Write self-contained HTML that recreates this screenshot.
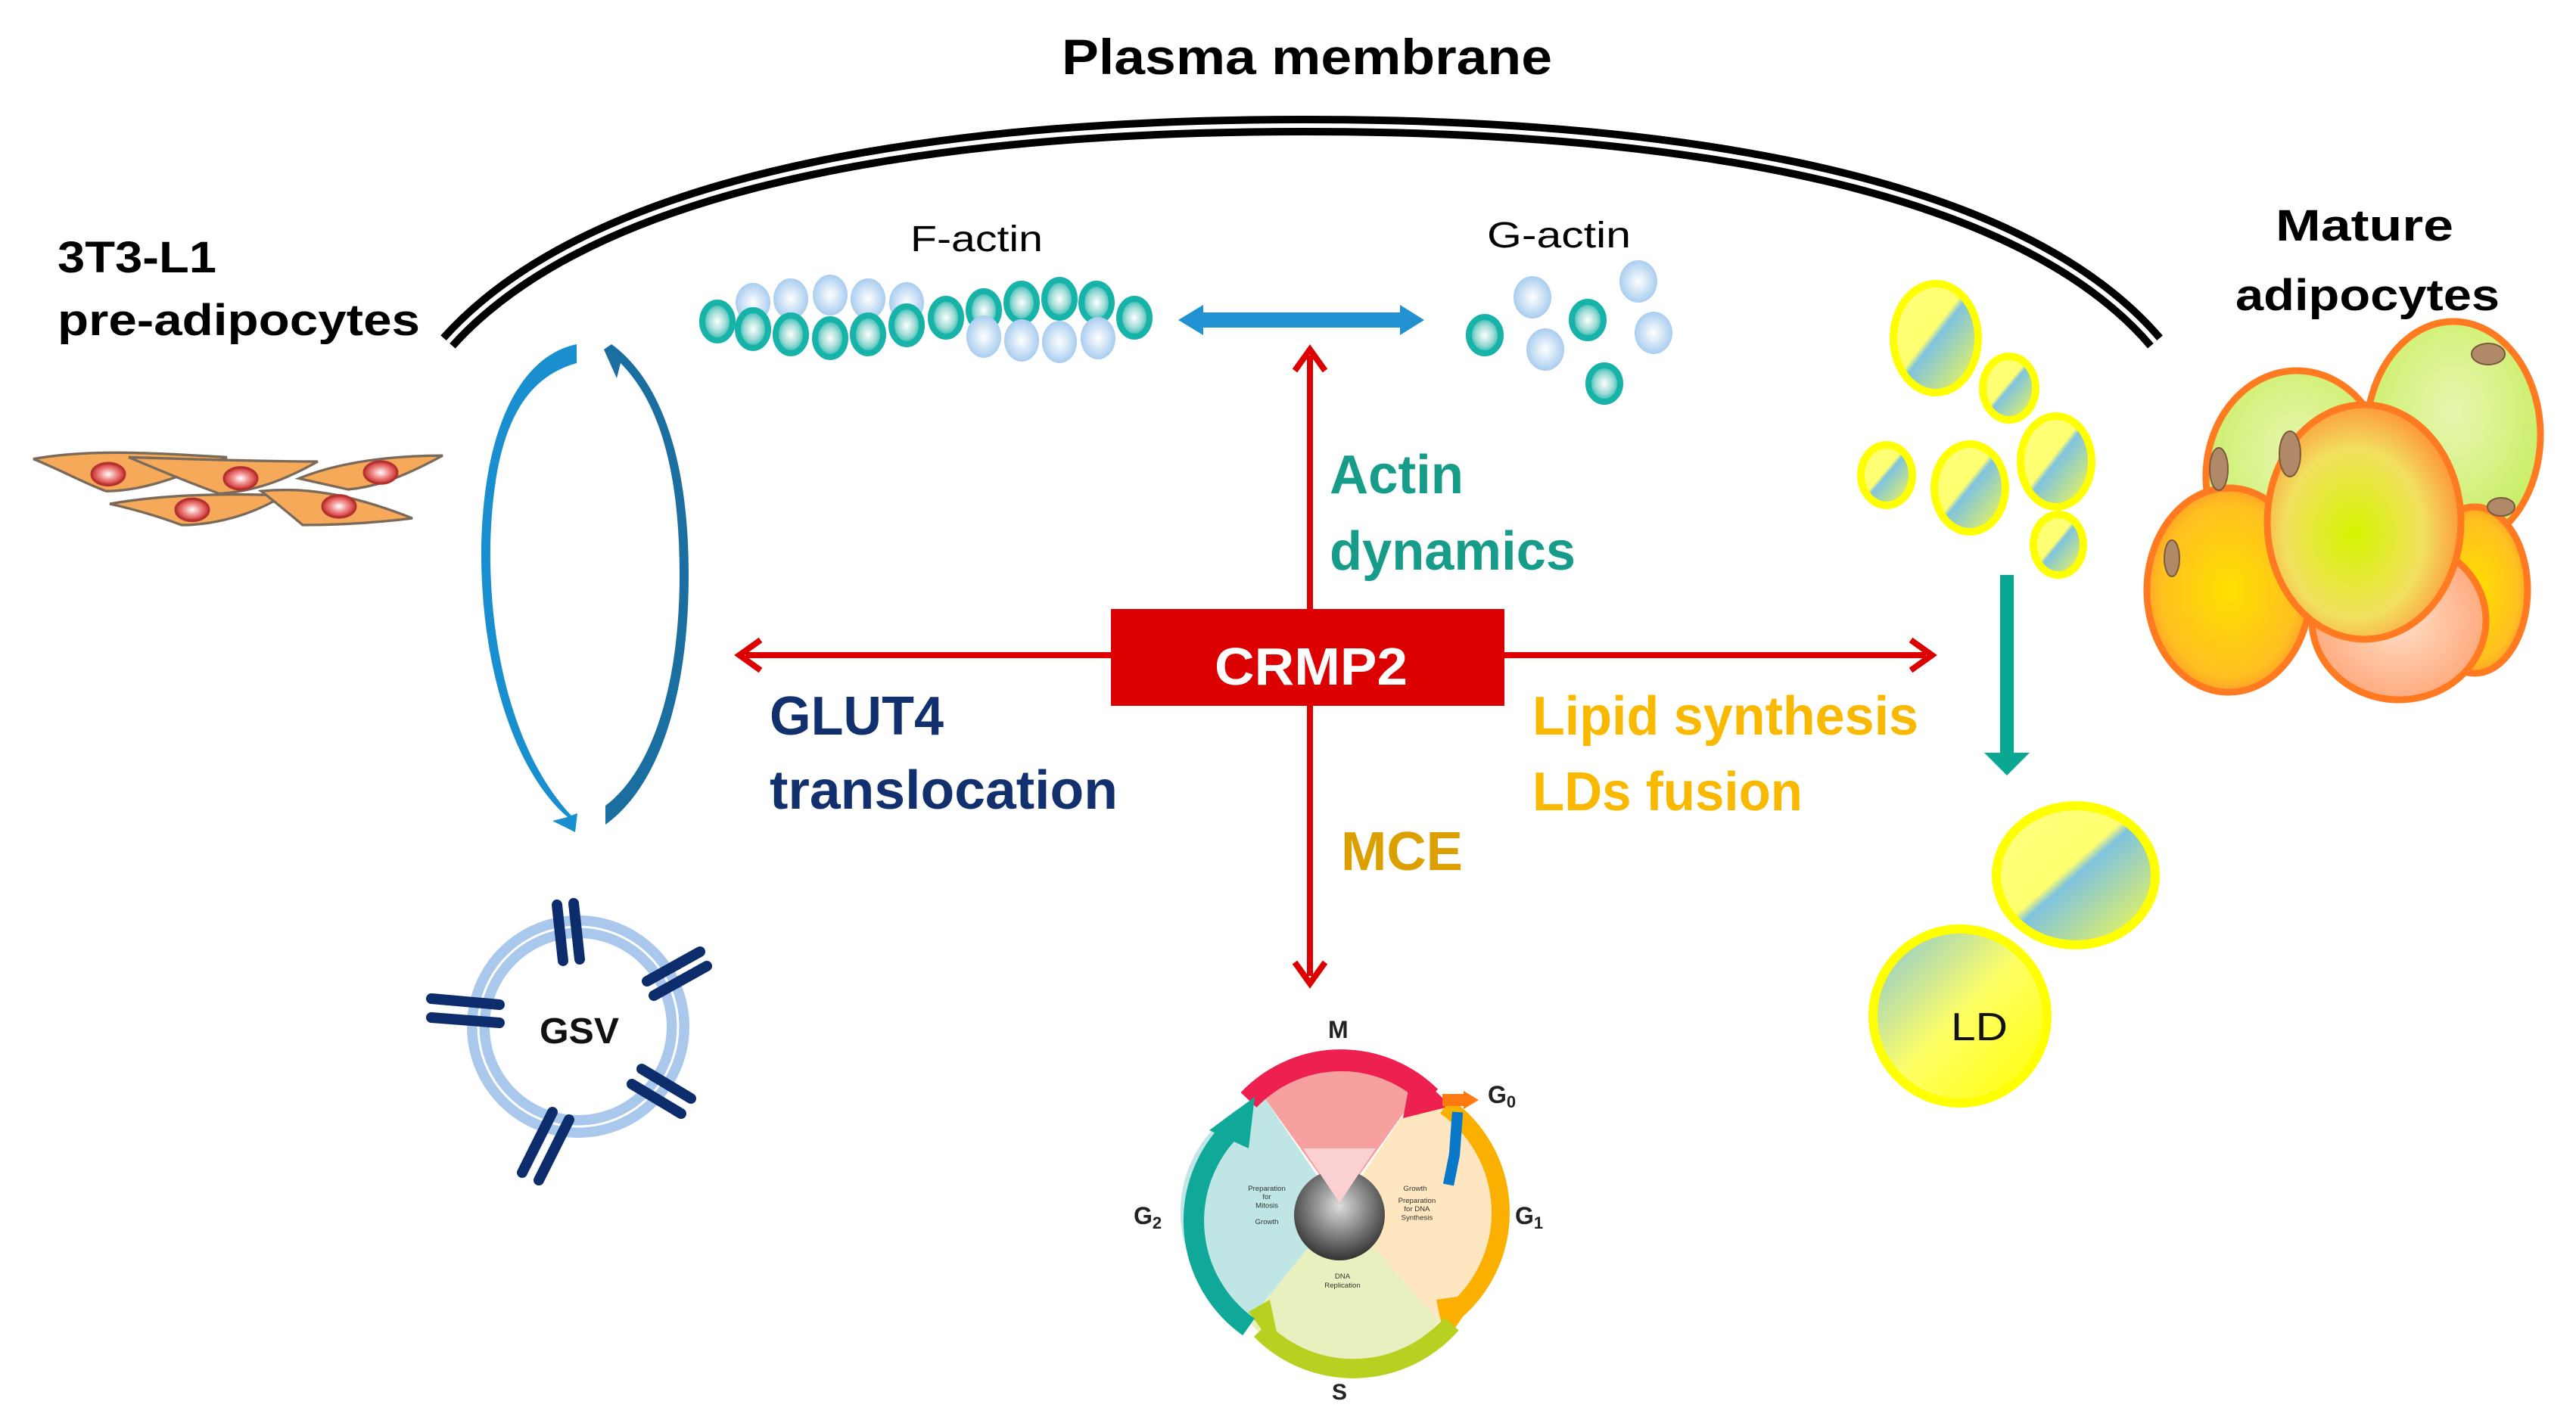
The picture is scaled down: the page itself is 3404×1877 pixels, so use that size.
<!DOCTYPE html>
<html><head><meta charset="utf-8"><style>
html,body{margin:0;padding:0;background:#fff;}
svg{display:block}
text{font-family:"Liberation Sans",sans-serif;}
</style></head><body>
<svg width="3404" height="1877" viewBox="0 0 3404 1877" xmlns="http://www.w3.org/2000/svg">
<defs>
<radialGradient id="tb" cx="50%" cy="50%" r="50%"><stop offset="0" stop-color="#ffffff"/><stop offset="0.55" stop-color="#9fdcd6"/><stop offset="1" stop-color="#1fb7ad"/></radialGradient>
<radialGradient id="lb" cx="50%" cy="50%" r="50%"><stop offset="0" stop-color="#ffffff"/><stop offset="1" stop-color="#a9cdef"/></radialGradient>
<linearGradient id="ld" x1="0" y1="0" x2="1" y2="1"><stop offset="0" stop-color="#7fc3df"/><stop offset="0.5" stop-color="#ffff66"/><stop offset="1" stop-color="#ffff00"/></linearGradient>
<linearGradient id="ld2" x1="0" y1="0" x2="1" y2="1"><stop offset="0" stop-color="#ffff80"/><stop offset="0.45" stop-color="#ffff70"/><stop offset="0.5" stop-color="#7fc3df"/><stop offset="1" stop-color="#ffff40"/></linearGradient>
<radialGradient id="ad1" cx="45%" cy="55%" r="60%"><stop offset="0" stop-color="#d4f400"/><stop offset="0.6" stop-color="#f2e060"/><stop offset="1" stop-color="#ff8a30"/></radialGradient>
<radialGradient id="ad2" cx="50%" cy="50%" r="60%"><stop offset="0" stop-color="#ffe000"/><stop offset="0.7" stop-color="#ffc020"/><stop offset="1" stop-color="#ff8030"/></radialGradient>
<radialGradient id="ad3" cx="50%" cy="40%" r="60%"><stop offset="0" stop-color="#e8f6b0"/><stop offset="1" stop-color="#c8ee60"/></radialGradient>
<radialGradient id="ad4" cx="50%" cy="50%" r="60%"><stop offset="0" stop-color="#ffe0c8"/><stop offset="1" stop-color="#ffa070"/></radialGradient>
<radialGradient id="nuc" cx="50%" cy="50%" r="50%"><stop offset="0" stop-color="#fff"/><stop offset="0.5" stop-color="#f08a8a"/><stop offset="1" stop-color="#c8302a"/></radialGradient>
<radialGradient id="hub" cx="50%" cy="40%" r="60%"><stop offset="0" stop-color="#ddd"/><stop offset="1" stop-color="#333"/></radialGradient>
</defs>

<!-- Plasma membrane -->
<path d="M592,452 C800,220 1300,166 1724,166 C2150,166 2650,220 2848,452" fill="none" stroke="#000" stroke-width="26"/>
<path d="M592,452 C800,220 1300,166 1724,166 C2150,166 2650,220 2848,452" fill="none" stroke="#fff" stroke-width="6"/>

<text x="1403" y="98" font-size="66" font-weight="bold" textLength="648" lengthAdjust="spacingAndGlyphs">Plasma membrane</text>
<text x="76" y="360" font-size="58" font-weight="bold" textLength="210" lengthAdjust="spacingAndGlyphs">3T3-L1</text>
<text x="76" y="443" font-size="58" font-weight="bold" textLength="479" lengthAdjust="spacingAndGlyphs">pre-adipocytes</text>
<text x="3007" y="318" font-size="58" font-weight="bold" textLength="235" lengthAdjust="spacingAndGlyphs">Mature</text>
<text x="2954" y="410" font-size="58" font-weight="bold" textLength="349" lengthAdjust="spacingAndGlyphs">adipocytes</text>
<text x="1203" y="332" font-size="48" textLength="175" lengthAdjust="spacingAndGlyphs">F-actin</text>
<text x="1965" y="327" font-size="48" textLength="190" lengthAdjust="spacingAndGlyphs">G-actin</text>

<!-- F-actin filament -->
<g stroke="none">
<g fill="url(#lb)">
<ellipse cx="995" cy="400" rx="23" ry="26"/><ellipse cx="1045" cy="395" rx="23" ry="27"/><ellipse cx="1097" cy="390" rx="23" ry="27"/><ellipse cx="1147" cy="395" rx="23" ry="27"/><ellipse cx="1198" cy="400" rx="23" ry="27"/>
</g>
<g fill="url(#tb)" stroke="#17b3a8" stroke-width="8">
<ellipse cx="948" cy="425" rx="20" ry="25"/><ellipse cx="995" cy="435" rx="20" ry="25"/><ellipse cx="1045" cy="442" rx="20" ry="25"/><ellipse cx="1097" cy="447" rx="20" ry="25"/><ellipse cx="1147" cy="442" rx="20" ry="25"/><ellipse cx="1198" cy="430" rx="20" ry="25"/><ellipse cx="1250" cy="420" rx="20" ry="25"/>
<ellipse cx="1300" cy="410" rx="20" ry="25"/><ellipse cx="1350" cy="400" rx="20" ry="25"/><ellipse cx="1400" cy="395" rx="20" ry="25"/><ellipse cx="1449" cy="400" rx="20" ry="25"/><ellipse cx="1499" cy="420" rx="20" ry="25"/>
</g>
<g fill="url(#lb)">
<ellipse cx="1300" cy="445" rx="23" ry="28"/><ellipse cx="1350" cy="450" rx="23" ry="28"/><ellipse cx="1400" cy="452" rx="23" ry="28"/><ellipse cx="1451" cy="447" rx="23" ry="28"/>
</g>
<!-- G-actin -->
<g fill="url(#lb)">
<ellipse cx="2025" cy="393" rx="25" ry="28"/><ellipse cx="2165" cy="372" rx="25" ry="28"/><ellipse cx="2042" cy="462" rx="25" ry="28"/><ellipse cx="2185" cy="440" rx="25" ry="28"/>
</g>
<g fill="url(#tb)" stroke="#17b3a8" stroke-width="8">
<ellipse cx="1962" cy="443" rx="21" ry="24"/><ellipse cx="2098" cy="423" rx="21" ry="24"/><ellipse cx="2120" cy="507" rx="21" ry="24"/>
</g>
</g>
<!-- blue double arrow -->
<path d="M1557,423 L1590,403 L1590,413 L1850,413 L1850,403 L1882,423 L1850,443 L1850,433 L1590,433 L1590,443 Z" fill="#2291d2"/>

<!-- red arrows -->
<g stroke="#dd0000" stroke-width="8" fill="none">
<line x1="1731" y1="470" x2="1731" y2="1290"/>
<line x1="985" y1="866" x2="2545" y2="866"/>
<polyline points="1711,490 1731,462 1751,490"/>
<polyline points="1711,1272 1731,1300 1751,1272"/>
<polyline points="1005,846 977,866 1005,886"/>
<polyline points="2525,846 2553,866 2525,886"/>
</g>
<rect x="1468" y="805" width="520" height="128" fill="#dd0000"/>
<text x="1605" y="905" font-size="70" font-weight="bold" fill="#fff" textLength="255" lengthAdjust="spacingAndGlyphs">CRMP2</text>

<text x="1757" y="652" font-size="72" font-weight="bold" fill="#189c8a" textLength="177" lengthAdjust="spacingAndGlyphs">Actin</text>
<text x="1757" y="753" font-size="72" font-weight="bold" fill="#189c8a" textLength="325" lengthAdjust="spacingAndGlyphs">dynamics</text>
<text x="1017" y="971" font-size="72" font-weight="bold" fill="#13306e" textLength="230" lengthAdjust="spacingAndGlyphs">GLUT4</text>
<text x="1017" y="1069" font-size="72" font-weight="bold" fill="#13306e" textLength="460" lengthAdjust="spacingAndGlyphs">translocation</text>
<text x="2025" y="971" font-size="72" font-weight="bold" fill="#f9b900" textLength="510" lengthAdjust="spacingAndGlyphs">Lipid synthesis</text>
<text x="2025" y="1071" font-size="72" font-weight="bold" fill="#f9b900" textLength="357" lengthAdjust="spacingAndGlyphs">LDs fusion</text>
<text x="1772" y="1150" font-size="72" font-weight="bold" fill="#dba000" textLength="161" lengthAdjust="spacingAndGlyphs">MCE</text>

<!-- pre-adipocytes -->
<g transform="translate(0,38) translate(0,600) scale(1,1.12) translate(0,-600)">
<g stroke="#7a6a5a" stroke-width="3" fill="#f7a95a">
<path d="M44,572 C120,560 200,565 300,570 C220,600 180,610 140,610 C110,600 80,585 44,572 Z"/>
<path d="M170,570 C250,572 330,575 420,575 C380,595 340,610 290,613 C250,600 210,585 170,570 Z"/>
<path d="M395,595 C450,575 520,568 585,568 C540,590 500,605 460,608 Z"/>
<path d="M145,625 C210,615 290,612 375,615 C330,640 280,650 240,650 C210,640 180,632 145,625 Z"/>
<path d="M345,610 C400,605 460,612 545,642 C490,648 440,650 400,650 C380,635 360,620 345,610 Z"/>
</g>
<g fill="url(#nuc)" stroke="#b53030" stroke-width="3">
<ellipse cx="143" cy="590" rx="22" ry="13"/><ellipse cx="318" cy="595" rx="22" ry="13"/><ellipse cx="503" cy="588" rx="22" ry="13"/><ellipse cx="254" cy="632" rx="22" ry="13"/><ellipse cx="448" cy="628" rx="22" ry="13"/>
</g>
</g>

<!-- recycling arrows -->
<path d="M762,455 C690,470 640,560 636,720 C634,880 680,1020 750,1080 L730,1085 L760,1100 L763,1075 L755,1078 C690,1010 646,880 648,720 C652,570 690,500 762,480 Z" fill="#1a8fd0"/>
<path d="M808,455 C870,500 910,600 910,760 C910,920 870,1040 800,1090 L800,1065 C860,1020 898,910 898,760 C898,620 870,530 820,480 L815,500 L798,462 Z" fill="#1a6ea0"/>

<!-- GSV -->
<circle cx="764" cy="1357" r="132" fill="none" stroke="#a9c8ec" stroke-width="30"/>
<circle cx="764" cy="1357" r="132" fill="none" stroke="#fff" stroke-width="3"/>
<g stroke="#0d2c6c" stroke-width="14" stroke-linecap="round">
<line x1="736" y1="1196" x2="744" y2="1270"/><line x1="758" y1="1194" x2="766" y2="1268"/>
<line x1="855" y1="1297" x2="925" y2="1258"/><line x1="864" y1="1316" x2="934" y2="1277"/>
<line x1="570" y1="1320" x2="660" y2="1328"/><line x1="570" y1="1345" x2="660" y2="1352"/>
<line x1="835" y1="1433" x2="900" y2="1472"/><line x1="848" y1="1413" x2="913" y2="1452"/>
<line x1="690" y1="1550" x2="730" y2="1470"/><line x1="712" y1="1560" x2="752" y2="1480"/>
</g>
<text x="713" y="1379" font-size="48" font-weight="bold" fill="#111" textLength="105" lengthAdjust="spacingAndGlyphs">GSV</text>

<!-- small droplets -->
<g stroke="#ffff00" stroke-width="10" fill="url(#ld2)">
<ellipse cx="2558" cy="447" rx="56" ry="72"/>
<ellipse cx="2655" cy="513" rx="35" ry="42"/>
<ellipse cx="2717" cy="610" rx="47" ry="60"/>
<ellipse cx="2493" cy="628" rx="34" ry="40"/>
<ellipse cx="2603" cy="645" rx="47" ry="58"/>
<ellipse cx="2720" cy="720" rx="33" ry="40"/>
</g>
<!-- teal down arrow -->
<rect x="2643" y="760" width="18" height="235" fill="#0aa892"/>
<polygon points="2622,995 2682,995 2652,1025" fill="#0aa892"/>

<!-- LDs -->
<ellipse cx="2743" cy="1157" rx="105" ry="92" fill="url(#ld2)" stroke="#ffff00" stroke-width="12"/>
<circle cx="2590" cy="1343" r="115" fill="url(#ld)" stroke="#ffff00" stroke-width="12"/>
<text x="2578" y="1375" font-size="52" fill="#111" textLength="75" lengthAdjust="spacingAndGlyphs">LD</text>

<!-- mature adipocytes -->
<g stroke="#ff7a20" stroke-width="9">
<ellipse cx="3035" cy="630" rx="120" ry="140" fill="url(#ad3)"/>
<ellipse cx="3242" cy="575" rx="115" ry="150" fill="url(#ad3)"/>
<ellipse cx="3270" cy="780" rx="70" ry="110" fill="url(#ad2)"/>
<ellipse cx="2945" cy="780" rx="108" ry="135" fill="url(#ad2)"/>
<ellipse cx="3170" cy="820" rx="115" ry="105" fill="url(#ad4)"/>
<ellipse cx="3124" cy="690" rx="128" ry="155" fill="url(#ad1)"/>
</g>
<g fill="#b08a68" stroke="#7a5a40" stroke-width="2">
<ellipse cx="3288" cy="468" rx="22" ry="14"/><ellipse cx="2932" cy="620" rx="12" ry="28"/><ellipse cx="3026" cy="600" rx="14" ry="30"/><ellipse cx="2870" cy="738" rx="10" ry="24"/><ellipse cx="3305" cy="670" rx="18" ry="12"/>
</g>

<!-- cell cycle -->
<g transform="translate(1770,1598) scale(0.8)">
<path d="M0,-10 L-125,-185 A200,200 0 0 1 125,-185 Z" fill="#f7a0a0"/>
<path d="M0,0 L125,-185 A200,200 0 0 1 165,185 Z" fill="#fde6c0"/>
<path d="M0,0 L165,185 A200,200 0 0 1 -150,185 Z" fill="#e8f0c0"/>
<path d="M0,0 L-150,185 A200,200 0 0 1 -125,-185 Z" fill="#bfe6e4"/>
<circle cx="0" cy="10" r="75" fill="url(#hub)"/>
<path d="M0,-10 L-60,-100 L60,-100 Z" fill="#fbd0d0"/>
<path d="M-150,-180 A210,210 0 0 1 150,-185" fill="none" stroke="#ee2050" stroke-width="36"/>
<polygon points="120,-230 185,-170 105,-150" fill="#ee2050"/>
<path d="M175,-170 A215,215 0 0 1 190,170" fill="none" stroke="#fbb000" stroke-width="30"/>
<polygon points="160,150 230,140 175,220" fill="#fbb000"/>
<path d="M170,-180 L205,-180" stroke="#ff7a10" stroke-width="20"/>
<polygon points="205,-195 230,-180 205,-165" fill="#ff7a10"/>
<path d="M195,-160 L190,-90 L180,-40" fill="none" stroke="#0a78c8" stroke-width="18"/>
<path d="M185,190 A215,215 0 0 1 -130,200" fill="none" stroke="#b8d020" stroke-width="32"/>
<polygon points="-150,170 -95,245 -115,150" fill="#b8d020"/>
<path d="M-150,195 A215,215 0 0 1 -180,-130" fill="none" stroke="#10a898" stroke-width="34"/>
<polygon points="-215,-130 -140,-185 -150,-100" fill="#10a898"/>
<g font-size="12" fill="#333" text-anchor="middle">
<text x="-120" y="-30">Preparation</text><text x="-120" y="-16">for</text><text x="-120" y="-2">Mitosis</text><text x="-120" y="25">Growth</text>
<text x="125" y="-30">Growth</text><text x="128" y="-10">Preparation</text><text x="128" y="4">for DNA</text><text x="128" y="18">Synthesis</text>
<text x="5" y="115">DNA</text><text x="5" y="130">Replication</text>
</g>
</g>
<text x="1755" y="1372" font-size="32" font-weight="bold" fill="#222">M</text>
<text x="1966" y="1458" font-size="32" font-weight="bold" fill="#222">G<tspan font-size="22" dy="6">0</tspan></text>
<text x="2002" y="1618" font-size="32" font-weight="bold" fill="#222">G<tspan font-size="22" dy="6">1</tspan></text>
<text x="1498" y="1618" font-size="32" font-weight="bold" fill="#222">G<tspan font-size="22" dy="6">2</tspan></text>
<text x="1760" y="1850" font-size="30" font-weight="bold" fill="#222">S</text>
</svg>
</body></html>
